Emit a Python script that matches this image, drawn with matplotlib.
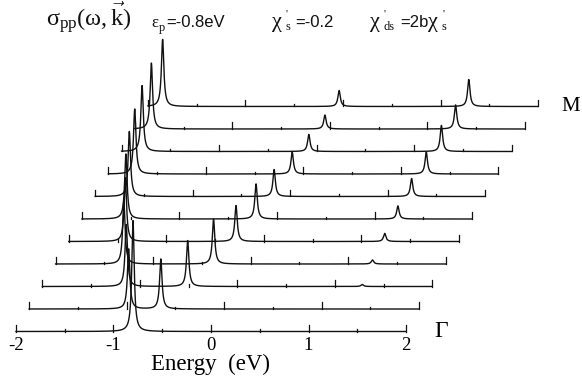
import numpy as np
import matplotlib
matplotlib.use('Agg')
import matplotlib.pyplot as plt

plt.rcParams['mathtext.fontset'] = 'custom'
plt.rcParams['mathtext.rm'] = 'Liberation Serif'
plt.rcParams['mathtext.it'] = 'Liberation Serif:italic'
plt.rcParams['mathtext.bf'] = 'Liberation Serif:bold'

# k-points from Gamma (bottom) to M (top); peak positions (eV) and heights (baseline-spacing units)
lower_E = [-0.80, -0.98, -1.14, -1.30, -1.42, -1.55, -1.65, -1.73, -1.79, -1.83, -1.85]
lower_h = [4.93, 2.67, 2.76, 2.80, 2.84, 2.89, 2.89, 2.89, 2.93, 2.93, 2.98]
middle_E = [None, -0.65, -0.51, -0.38, -0.285, -0.215, -0.165, -0.115, -0.08, -0.05, -0.04]
middle_h = [0.0, 2.22, 2.04, 2.00, 1.60, 1.56, 1.20, 0.98, 0.76, 0.62, 0.71]
upper_E = [None, None, 1.28, 1.25, 1.24, 1.24, 1.245, 1.26, 1.28, 1.29, 1.29]
upper_h = [0.0, 0.0, 0.09, 0.18, 0.36, 0.58, 0.80, 0.98, 1.16, 1.07, 1.20]

tick_E = [-2, -1.5, -1, -0.5, 0, 0.5, 1, 1.5, 2]
tick_labels = ['-2', '-1', '0', '1', '2']
tick_label_E = [-2, -1, 0, 1, 2]

gamma = 0.015
DX = 13.2 / 97.5   # horizontal shift of each successive spectrum (eV)

W, H = 582, 377
fig = plt.figure(figsize=(W / 100, H / 100), dpi=100)
ax = fig.add_axes([0, 0, 1, 1])
ax.set_xlim(-2.164, 3.805)
ax.set_ylim(-2.022, 14.733)
ax.axis('off')

E = np.linspace(-2, 2, 8001)
lc = '#111111'
n = len(lower_E)
for i in range(n):
    s = np.zeros_like(E)
    for pe, ph in ((lower_E[i], lower_h[i]), (middle_E[i], middle_h[i]), (upper_E[i], upper_h[i])):
        if pe is None or ph == 0:
            continue
        s += ph / (1 + ((E - pe) / gamma) ** 2)
    ax.plot(E + i * DX, i + s, color=lc, lw=1.0, solid_joinstyle='round')
    for t in tick_E:
        L = 0.31 if float(t).is_integer() else 0.11
        ax.plot([t + i * DX, t + i * DX], [i, i + L], color=lc, lw=0.9)

serif = ['Liberation Serif', 'DejaVu Serif']
sans = ['Liberation Sans', 'DejaVu Sans']
for lab, te in zip(tick_labels, tick_label_E):
    ax.text(te, -0.64, lab, ha='center', va='center', fontsize=13.5, family=serif)

ax.text(0.0, -1.45, 'Energy  (eV)', ha='center', va='center', fontsize=16.5, family=serif)
ax.text(2.359, 0.0, 'Γ', ha='center', va='center', fontsize=17, family=serif)
ax.text(3.69, 10.0, 'M', ha='center', va='center', fontsize=15, family=serif)


def put(px, py, txt, size, family=serif):
    ax.text(px / W, 1 - py / H, txt, transform=ax.transAxes, ha='left',
            va='baseline', fontsize=size, family=family, color='#111111')


put(46, 26, r'$\mathrm{\sigma_{pp}(\omega,\vec{k})}$', 17.5)
put(151, 27, 'ε', 12)
put(159, 31, 'p', 9)
put(166, 27, '=-0.8eV', 12, sans)
put(272, 27, 'χ', 16)
put(286, 17, "'", 8)
put(285, 30, 's', 9)
put(295, 27, '=-0.2', 12, sans)
put(370, 27, 'χ', 16)
put(384, 17, "'", 8)
put(384, 30, 'ds', 9)
put(400, 27, '=2b', 12, sans)
put(428, 27, 'χ', 16)
put(443, 17, "'", 8)
put(442, 30, 's', 9)

fig.savefig('out.png', dpi=100)
